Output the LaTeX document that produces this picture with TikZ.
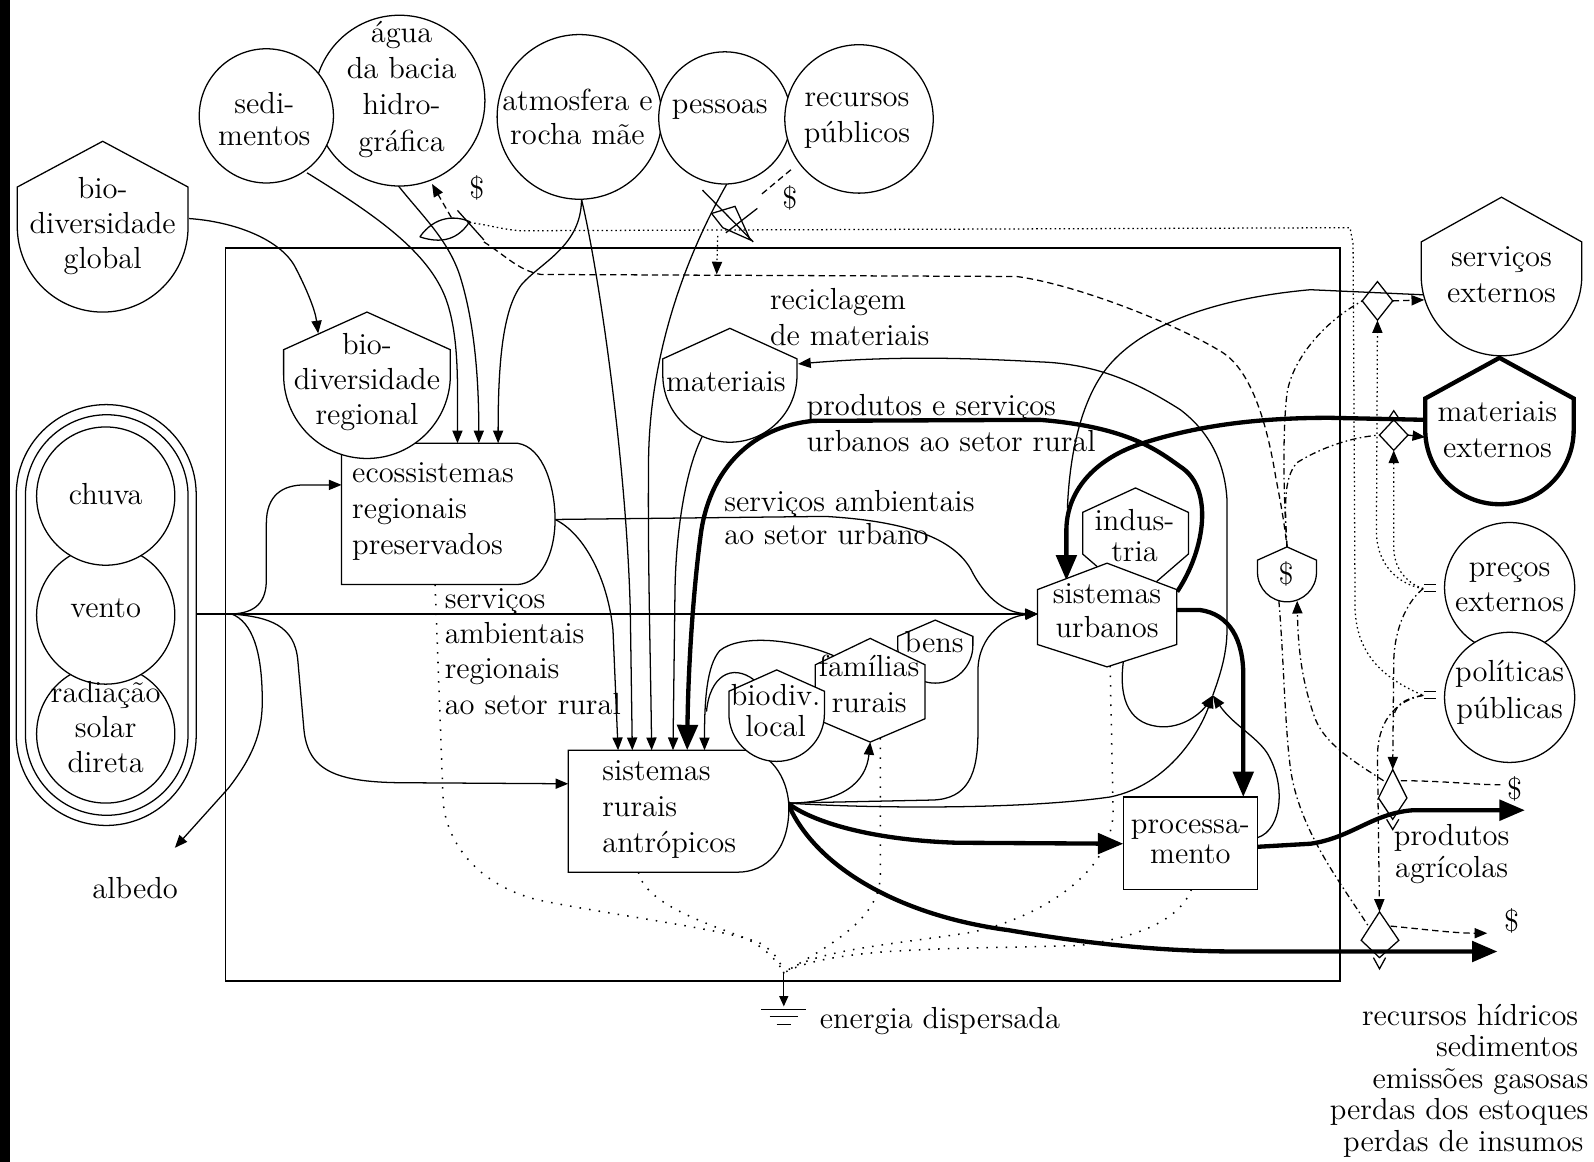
\documentclass[tikz,border=0pt]{standalone}
\usetikzlibrary{arrows.meta}
\newcommand\pshape[6][]{\draw[#1] ({#2-#6},#5) -- ({#2-#6},#4) -- (#2,#3) -- ({#2+#6},#4) -- ({#2+#6},#5) arc[start angle=0,end angle=180,radius=#6] -- cycle;}
\newcommand\hexshape[7][]{\draw[#1] (#2,#3) -- ({#2+#7},#4) -- ({#2+#7},#5) -- (#2,#6) -- ({#2-#7},#5) -- ({#2-#7},#4) -- cycle;}
\begin{document}
\begin{tikzpicture}[x=0.4pt,y=-0.4pt,
  ln/.style={line width=0.5pt},
  thk/.style={line width=1.7pt},
  arr/.style={-{Triangle[length=5pt,width=4pt]}},
  tarr/.style={-{Triangle[length=10pt,width=8pt]}},
  money/.style={line width=0.5pt,dash pattern=on 2.5pt off 1.6pt},
  dashdot/.style={line width=0.5pt,dash pattern=on 2.5pt off 1.3pt on 0.6pt off 1.3pt},
  info/.style={line width=0.5pt,dash pattern=on 0.6pt off 1.2pt},
  heat/.style={line width=0.6pt,dash pattern=on 0.6pt off 3.2pt},
  txt/.style={font=\fontsize{12}{#1}\selectfont,align=center,inner sep=0pt},
  txt/.default=14.2]
\useasboundingbox (0,0) rectangle (1568,1143);
\fill[black] (0,0) rectangle (9.5,1143);
\draw[ln] (222,244) rectangle (1318,965);

% ---------- coordinates
\coordinate (ventoR) at (193,604);
\coordinate (vj) at (228,604);
\coordinate (urbL) at (1021,604);
\coordinate (ecoL) at (336,477);
\coordinate (ecoR) at (546,511);
\coordinate (ecoB) at (428,575);
\coordinate (rurL) at (559,771);
\coordinate (rurJ) at (775,790);
\coordinate (rurB) at (628,858);
\coordinate (albA) at (172,834);
\coordinate (e1) at (450,436);
\coordinate (e2) at (471,436);
\coordinate (e3) at (490,436);
\coordinate (r1) at (608,738);
\coordinate (r2) at (622,738);
\coordinate (r3) at (641,738);
\coordinate (r4) at (662,738);
\coordinate (r5) at (676,738);
\coordinate (r6) at (693,738);
\coordinate (sedB) at (302,170);
\coordinate (aguaB) at (392,183);
\coordinate (aguaM) at (425,181);
\coordinate (atmB) at (572,196);
\coordinate (pesB) at (715,181);
\coordinate (matB) at (691,429);
\coordinate (matR) at (785,358);
\coordinate (urbUR) at (1158,582);
\coordinate (urbR) at (1158,600);
\coordinate (urbT) at (1049,571);
\coordinate (urbB) at (1105,651);
\coordinate (urbBd) at (1092,655);
\coordinate (mExtL) at (1402,413);
\coordinate (sExtL) at (1400,290);
\coordinate (merge) at (1050,500);
\coordinate (junc) at (1193,684);
\coordinate (procL) at (1105,830);
\coordinate (procT) at (1223,784);
\coordinate (procR) at (1237,824);
\coordinate (procR2) at (1237,833);
\coordinate (procB) at (1172,875);
\coordinate (outP) at (1500,797);
\coordinate (outB) at (1473,936);
\coordinate (famB) at (856,730);
\coordinate (famBd) at (866,726);
\coordinate (famE) at (820,645);
\coordinate (bioE) at (742,669);
\coordinate (globR) at (186,215);
\coordinate (regA) at (313,328);
\coordinate (sinkJ) at (771,957);
\coordinate (sinkA) at (771,990);
\coordinate (lensT) at (444,214);
\coordinate (lensR) at (462,219);
\coordinate (lensBR) at (476,238);
\coordinate (polE) at (1400,684);
\coordinate (presE) at (1400,579);
\coordinate (dolT) at (1266,538);
\coordinate (dolB) at (1276,591);
\coordinate (dolB2) at (1258,591);
\coordinate (pesT) at (706,232);
\coordinate (pesA) at (705,270);
\coordinate (recL) at (778,167);
\coordinate (recE) at (748,192);
\coordinate (servDL) at (1340,296);
\coordinate (servDR) at (1370,296);
\coordinate (servDB) at (1355,315);
\coordinate (servA) at (1401,295);
\coordinate (matDL) at (1357,428);
\coordinate (matDR) at (1385,428);
\coordinate (matDB) at (1371,443);
\coordinate (matA) at (1402,430);
\coordinate (upDT) at (1370,757);
\coordinate (upDL) at (1361,768);
\coordinate (upDR) at (1378,768);
\coordinate (upS) at (1476,772);
\coordinate (loDT) at (1357,897);
\coordinate (loDL) at (1346,911);
\coordinate (loDR) at (1368,911);
\coordinate (loS) at (1463,918);

% ---------- energy connectors
\draw[ln,arr] (ventoR) -- (urbL);
\draw[ln,arr] (vj) .. controls (252,603) and (262,592) .. (262,570) -- (262,515) .. controls (262,487) and (278,477) .. (300,477) -- (ecoL);
\draw[ln,arr] (vj) .. controls (265,607) and (290,615) .. (293,650) -- (299,718) .. controls (303,758) and (330,770) .. (400,770) -- (rurL);
\draw[ln,arr] (vj) .. controls (248,612) and (258,640) .. (258,690) .. controls (258,722) and (248,745) .. (225,775) -- (albA);

\draw[ln,arr] (ecoR) -- (812,508) .. controls (880,512) and (935,525) .. (955,560) .. controls (970,590) and (990,603) .. (urbL);
\draw[ln,arr] (ecoR) .. controls (575,525) and (598,570) .. (603,620) -- (r1);

\draw[ln,arr] (sedB) .. controls (370,212) and (422,248) .. (439,295) .. controls (452,332) and (450,380) .. (e1);
\draw[ln,arr] (aguaB) .. controls (415,212) and (440,235) .. (452,270) .. controls (468,320) and (471,380) .. (e2);
\draw[ln,arr] (atmB) .. controls (572,242) and (532,258) .. (513,280) .. controls (494,305) and (490,360) .. (e3);
\draw[ln,arr] (atmB) .. controls (588,262) and (616,450) .. (620,600) -- (r2);
\draw[ln,arr] (pesB) .. controls (686,232) and (640,330) .. (638,450) .. controls (637,550) and (640,650) .. (r3);
\draw[ln,arr] (matB) .. controls (675,460) and (665,520) .. (664,580) -- (r4);
\draw[thk,tarr] (urbUR) .. controls (1186,540) and (1194,480) .. (1161,459) .. controls (1140,444) and (1110,420) .. (1023,413) -- (800,414) .. controls (740,420) and (700,460) .. (690,521) .. controls (683,570) and (677,650) .. (r5);
\draw[ln,arr] (famE) .. controls (780,628) and (728,624) .. (708,640) .. controls (695,655) and (693,690) .. (r6);
\draw[ln] (bioE) .. controls (720,652) and (698,665) .. (695,700);

\draw[thk,tarr] (mExtL) -- (1308,411) .. controls (1240,411) and (1180,418) .. (1124,436) .. controls (1080,450) and (1050,480) .. (1049,520) -- (urbT);
\draw[ln] (sExtL) -- (1289,285) .. controls (1200,293) and (1120,318) .. (1085,367) .. controls (1062,400) and (1052,450) .. (merge);

\draw[ln,arr] (junc) .. controls (1201,662) and (1207,642) .. (1207,619) -- (1207,492) .. controls (1205,455) and (1190,425) .. (1161,403) .. controls (1120,377) and (1080,358) .. (1023,356) .. controls (950,352) and (880,350) .. (matR);
\draw[ln,arr] (urbB) .. controls (1100,690) and (1112,714) .. (1144,715) .. controls (1168,715) and (1184,698) .. (junc);
\draw[ln,arr] (rurJ) .. controls (850,795) and (1000,797) .. (1092,784) .. controls (1150,772) and (1180,720) .. (junc);
\draw[ln,arr] (procR) .. controls (1262,816) and (1265,770) .. (1246,740) .. controls (1235,724) and (1212,712) .. (junc);

\draw[ln,arr] (rurJ) -- (917,787) .. controls (952,786) and (962,762) .. (962,720) -- (962,660) .. controls (962,625) and (990,606) .. (urbL);
\draw[ln,arr] (rurJ) .. controls (828,790) and (852,770) .. (famB);
\draw[thk,tarr] (rurJ) .. controls (795,806) and (850,826) .. (941,829) -- (procL);
\draw[thk,tarr] (rurJ) .. controls (800,850) and (880,900) .. (992,915) .. controls (1080,930) and (1150,936) .. (1220,936) -- (outB);
\draw[thk,tarr] (urbR) -- (1180,600) .. controls (1210,604) and (1223,630) .. (1223,664) -- (procT);
\draw[thk,tarr] (procR2) -- (1289,830) .. controls (1330,824) and (1350,800) .. (1390,797) -- (outP);

\draw[ln,arr] (globR) .. controls (230,218) and (275,235) .. (290,262) .. controls (302,285) and (310,305) .. (regA);

% ---------- heat sink
\draw[heat] (ecoB) -- (436,790) .. controls (440,830) and (470,870) .. (528,885) .. controls (600,900) and (720,915) .. (748,928) .. controls (760,935) and (768,945) .. (sinkJ);
\draw[heat] (rurB) .. controls (635,890) and (700,910) .. (731,922) .. controls (750,930) and (765,945) .. (sinkJ);
\draw[heat] (famBd) -- (866,860) .. controls (866,905) and (815,930) .. (sinkJ);
\draw[heat] (urbBd) -- (1095,800) .. controls (1092,870) and (1000,910) .. (950,918) .. controls (870,930) and (800,935) .. (sinkJ);
\draw[heat] (procB) .. controls (1160,905) and (1120,922) .. (1062,930) .. controls (950,934) and (820,930) .. (sinkJ);
\draw[ln,-{Triangle[length=4pt,width=3.5pt]}] (sinkJ) -- (sinkA);
\draw[ln] (749,993) -- (793,993) (757,1000) -- (785,1000) (764,1008) -- (778,1008);

% ---------- money and information
\draw[money,arr] (lensT) -- (aguaM);
\draw[info] (lensR) .. controls (480,221) and (495,226) .. (512,227) -- (1328,224) -- (1331,240) -- (1333,600) .. controls (1335,645) and (1362,668) .. (polE);
\draw[money] (lensBR) .. controls (498,252) and (510,266) .. (532,270) -- (1000,272) .. controls (1060,280) and (1160,320) .. (1203,347) .. controls (1232,366) and (1247,420) .. (1255,470) .. controls (1261,500) and (1264,520) .. (dolT);
\draw[info,arr] (pesT) -- (pesA);
\draw[money] (recL) -- (recE);
\draw[dashdot] (dolT) .. controls (1262,480) and (1262,420) .. (1266,387) .. controls (1271,355) and (1300,318) .. (servDL);
\draw[dashdot] (dolT) .. controls (1264,500) and (1262,470) .. (1276,455) .. controls (1300,440) and (1330,430) .. (matDL);
\draw[money,arr] (servDR) -- (servA);
\draw[money,arr] (matDR) -- (matA);
\draw[info,arr] (presE) .. controls (1380,576) and (1355,560) .. (1354,524) -- (servDB);
\draw[info,arr] (presE) .. controls (1390,576) and (1372,565) .. (1371,540) -- (matDB);
\draw[dashdot,arr] (presE) .. controls (1386,590) and (1372,615) .. (1371,650) -- (upDT);
\draw[dashdot,arr] (polE) .. controls (1370,690) and (1355,712) .. (1355,745) -- (loDT);
\draw[dashdot] (polE) .. controls (1388,686) and (1373,690) .. (1371,705);
\draw[money] (upDR) .. controls (1420,768) and (1450,772) .. (upS);
\draw[money,arr] (loDR) .. controls (1400,914) and (1430,918) .. (loS);
\draw[dashdot,arr] (upDL) .. controls (1330,748) and (1300,730) .. (1292,702) .. controls (1281,670) and (1277,640) .. (dolB);
\draw[dashdot] (dolB2) .. controls (1263,650) and (1264,720) .. (1270,760) .. controls (1280,820) and (1320,870) .. (loDL);

% ---------- shapes
\draw[ln,rounded corners=35.4pt] (16,398) rectangle (193,812);
\draw[ln,rounded corners=32pt] (25,408) rectangle (185,802);
\draw[ln,fill=white] (104,722) circle[radius=68];
\draw[ln,fill=white] (104,605) circle[radius=68];
\draw[ln,fill=white] (104,488) circle[radius=68];

\draw[ln,fill=white] (393,99) circle[radius=84];
\draw[ln,fill=white] (262,114) circle[radius=66];
\draw[ln,fill=white] (570,115) circle[radius=81];
\draw[ln,fill=white] (713,116) circle[radius=65];
\draw[ln,fill=white] (845,117) circle[radius=73];
\draw[ln,fill=white] (1485,578) circle[radius=64];
\draw[ln,fill=white] (1485,686) circle[radius=64];

\pshape[ln,fill=white]{101}{139}{184}{223}{84}
\draw[ln,fill=white] (336,436) -- (509,436) .. controls (535,440) and (546,480) .. (546,511) .. controls (546,545) and (532,574) .. (509,575) -- (336,575) -- cycle;
\pshape[ln,fill=white]{361}{307}{344}{369}{82}
\pshape[ln,fill=white]{718}{323}{353}{369}{66}
\pshape[ln,fill=white]{1477}{194}{238}{271}{79}
\pshape[thk,fill=white]{1475}{352}{392}{423}{73}
\pshape[ln,fill=white]{1266}{538}{551}{563}{29}

\draw[ln,fill=white] (559,738) -- (735,738) .. controls (762,742) and (776,770) .. (776,795) .. controls (776,835) and (755,858) .. (725,858) -- (559,858) -- cycle;
\pshape[ln,fill=white]{920}{610}{626}{635}{37}
\hexshape[ln,fill=white]{856}{628}{654}{707}{730}{54}
\pshape[ln,fill=white]{764}{659}{680}{702}{47}
\hexshape[ln,fill=white]{1117}{480}{504}{545}{590}{52}
\hexshape[ln,fill=white]{1089}{554}{580}{634}{656}{68.5}
\draw[ln,fill=white] (1105,784) rectangle (1237,875);

% transaction symbols and interactions
\draw[ln] (413,233) .. controls (428,212) and (448,212) .. (462,218) .. controls (448,240) and (428,238) .. (413,233);
\draw[ln] (450,207) -- (476,236);
\draw[ln] (691,187) -- (741,238);
\draw[ln] (700,210) -- (723,203) -- (738,236) -- (711,224) -- cycle;
\draw[ln] (745,205) -- (714,229);
\draw[ln] (1355,277) -- (1370,296) -- (1355,315) -- (1340,296) -- cycle;
\draw[ln] (1371,413) -- (1385,428) -- (1371,443) -- (1357,428) -- cycle;
\draw[ln] (1365,413) -- (1371,404) -- (1377,413);
\draw[ln] (1370,757) -- (1384,785) -- (1370,806) -- (1356,785) -- cycle;
\draw[ln] (1364,806) -- (1370,816) -- (1376,806);
\draw[ln] (1357,897) -- (1376,925) -- (1357,942) -- (1339,925) -- cycle;
\draw[ln] (1351,942) -- (1357,953) -- (1363,942);
\draw[ln] (1401,575) -- (1413,575) (1401,582) -- (1413,582);
\draw[ln] (1401,680) -- (1413,680) (1401,687) -- (1413,687);

% ---------- texts
\node[txt=12.6] (tSed) at (260,117) {sedi-\\mentos};
\node[txt] (tAgua) at (395,88) {água\\da bacia\\hidro-\\gráfica};
\node[txt=13.4] (tAtm) at (568,115) {atmosfera e\\rocha mãe};
\node[txt] (tPes) at (708,108) {pessoas};
\node[txt] (tRec) at (843,119) {recursos\\públicos};
\node[txt=13.8] (tGlob) at (101,222) {bio-\\diversidade\\global};
\node[txt=13.8] (tReg) at (361,376) {bio-\\diversidade\\regional};
\node[txt] (tChuva) at (104,486) {chuva};
\node[txt] (tVento) at (104,598) {vento};
\node[txt=13.8] (tRad) at (104,715) {radiação\\solar\\direta};
\node[txt] (tAlb) at (133,874) {albedo};
\node[txt,align=left,anchor=west] (tEco) at (346,503) {ecossistemas\\regionais\\preservados};
\node[txt] (tMat) at (714,375) {materiais};
\node[txt,align=left,anchor=west] (tRecM) at (757,312) {reciclagem\\de materiais};
\node[txt,align=left,anchor=west] (tProd) at (793,416) {produtos e serviços\\urbanos ao setor rural};
\node[txt=13.2,align=left,anchor=west] (tAmbU) at (712,509) {serviços ambientais\\ao setor urbano};
\node[txt=13.8,align=left,anchor=west] (tAmbR) at (437,641) {serviços\\ambientais\\regionais\\ao setor rural};
\node[txt=12.4] (tInd) at (1116,527) {indus-\\tria};
\node[txt=13.2] (tUrb) at (1089,601) {sistemas\\urbanos};
\node[txt] (tBens) at (919,632) {bens};
\node[txt=14] (tFam) at (855,673) {famílias\\rurais};
\node[txt=12] (tBio) at (763,699) {biodiv.\\local};
\node[txt,align=left,anchor=west] (tRur) at (592,796) {sistemas\\rurais\\antrópicos};
\node[txt=11.8] (tProc) at (1171,828) {processa-\\mento};
\node[txt] (tDol) at (1265,565) {\$};
\node[txt] (tServ) at (1477,270) {serviços\\externos};
\node[txt] (tMatE) at (1473,423) {materiais\\externos};
\node[txt=13.6] (tPre) at (1485,578) {preços\\externos};
\node[txt] (tPol) at (1485,681) {políticas\\públicas};
\node[txt] (d1) at (469,185) {\$};
\node[txt] (d2) at (777,195) {\$};
\node[txt] (d3) at (1490,776) {\$};
\node[txt] (d4) at (1487,906) {\$};
\node[txt=12.8] (tProdA) at (1428,840) {produtos\\agrícolas};
\node[txt,anchor=west] (tEn) at (806,1004) {energia dispersada};
\node[txt=12.4,align=right,anchor=east] (tLoss) at (1563,1063) {recursos hídricos\kern4pt\\sedimentos\kern4pt\\emissões gasosas\\perdas dos estoques\\perdas de insumos\kern2pt};
\end{tikzpicture}
\end{document}
